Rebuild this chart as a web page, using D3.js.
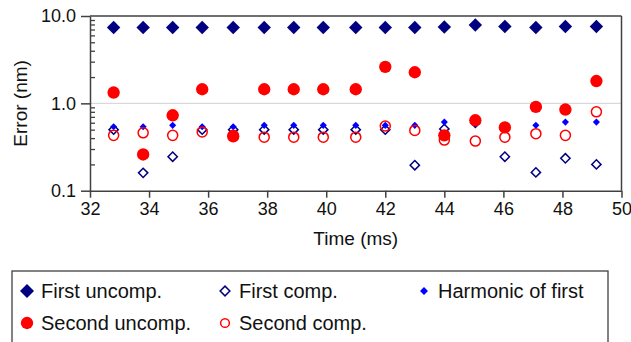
<!DOCTYPE html>
<html>
<head>
<meta charset="utf-8">
<script src="https://cdn.jsdelivr.net/npm/d3@7"></script>
<style>
  body { margin: 0; background: #fff; }
  svg { font-family: "Liberation Sans", Arial, sans-serif; }
</style>
</head>
<body>
<div id="chart"></div>
<script>
// data
const times = [32.8, 33.8, 34.8, 35.8, 36.85, 37.9, 38.9, 39.9, 41.0, 42.0, 43.0, 44.0, 45.05, 46.05, 47.1, 48.1, 49.15];
const firstUncomp  = [7.4, 7.4, 7.4, 7.4, 7.4, 7.4, 7.4, 7.4, 7.4, 7.4, 7.4, 7.5, 7.9, 7.6, 7.4, 7.6, 7.6];
const firstComp    = [0.5, 0.16, 0.245, 0.5, 0.5, 0.5, 0.5, 0.5, 0.5, 0.5, 0.196, 0.51, 0.6, 0.245, 0.162, 0.235, 0.2];
const harmonic     = [0.54, 0.54, 0.56, 0.54, 0.54, 0.56, 0.56, 0.56, 0.56, 0.56, 0.56, 0.61, 0.65, 0.56, 0.56, 0.61, 0.61];
const secondUncomp = [1.33, 0.26, 0.73, 1.45, 0.42, 1.45, 1.45, 1.45, 1.45, 2.62, 2.27, 0.43, 0.64, 0.53, 0.91, 0.85, 1.8];
const secondComp   = [0.43, 0.46, 0.43, 0.47, 0.43, 0.41, 0.41, 0.41, 0.41, 0.55, 0.49, 0.38, 0.37, 0.41, 0.45, 0.43, 0.8];
const yTicks = [0.1, 1, 10];
const xTicks = [32, 34, 36, 38, 40, 42, 44, 46, 48, 50];

const width = 631, height = 342;
const plot = {left: 90, right: 621.5, top: 16, bottom: 190.7};
const axisColor = "#404040";

let svg = d3.select("#chart")
    .append("svg")
    .attr("width", width)
    .attr("height", height);

let x = d3.scaleLinear().domain([32, 50]).range([plot.left, plot.right]);
let y = d3.scaleLog().domain([0.1, 10]).range([plot.bottom, plot.top]);

// gridline at 1.0
svg.append("line")
    .attr("x1", plot.left).attr("x2", plot.right)
    .attr("y1", y(1)).attr("y2", y(1))
    .attr("stroke", "#d9d9d9").attr("stroke-width", 1.2);

// box top and right
svg.append("line")
    .attr("x1", plot.left).attr("x2", plot.right)
    .attr("y1", plot.top).attr("y2", plot.top)
    .attr("stroke", axisColor).attr("stroke-width", 1.5);
svg.append("line")
    .attr("x1", plot.right).attr("x2", plot.right)
    .attr("y1", plot.top).attr("y2", plot.bottom)
    .attr("stroke", axisColor).attr("stroke-width", 1.5);

// minor ticks (inside)
let minor = [];
[0.1, 1].forEach(function(d) { for (let k = 2; k <= 9; k++) minor.push(d * k); });
svg.append("g")
    .attr("transform", `translate(${plot.left},0)`)
    .call(d3.axisRight(y).tickValues(minor).tickSize(5).tickFormat(""))
    .call(g => g.select(".domain").remove())
    .call(g => g.selectAll("line").attr("stroke", axisColor).attr("stroke-width", 1.3));

// y axis
svg.append("g")
    .attr("transform", `translate(${plot.left},0)`)
    .call(d3.axisLeft(y).tickValues(yTicks).tickSize(9).tickSizeOuter(0).tickPadding(5).tickFormat(d3.format(".1f")))
    .call(g => g.select(".domain").attr("stroke", axisColor).attr("stroke-width", 1.5))
    .call(g => g.selectAll("line").attr("stroke", axisColor).attr("stroke-width", 1.5))
    .call(g => g.selectAll("text").attr("fill", "#111").style("font-size", "18px"));

// x axis
svg.append("g")
    .attr("transform", `translate(0,${plot.bottom})`)
    .call(d3.axisBottom(x).tickValues(xTicks).tickSize(7).tickSizeOuter(0).tickPadding(5))
    .call(g => g.select(".domain").attr("stroke", axisColor).attr("stroke-width", 1.5))
    .call(g => g.selectAll("line").attr("stroke", axisColor).attr("stroke-width", 1.5))
    .call(g => g.selectAll("text").attr("fill", "#111").style("font-size", "18px"));

// axis titles
svg.append("text")
    .attr("transform", `translate(27, ${(plot.top + plot.bottom) / 2}) rotate(-90)`)
    .style("text-anchor", "middle")
    .style("font-size", "19px")
    .attr("fill", "#111")
    .text("Error (nm)");

svg.append("text")
    .attr("x", (plot.left + plot.right) / 2)
    .attr("y", 245)
    .style("text-anchor", "middle")
    .style("font-size", "19px")
    .attr("fill", "#111")
    .text("Time (ms)");

const diamond = d3.symbol().type(d3.symbolDiamond2);
const circle = d3.symbol().type(d3.symbolCircle);

const series = [
    {name: "First uncomp.",     values: firstUncomp,  sym: diamond, size: 115, fill: "#000080", stroke: "none",    sw: 0},
    {name: "First comp.",       values: firstComp,    sym: diamond, size: 55,  fill: "none",    stroke: "#000080", sw: 1.5},
    {name: "Harmonic of first", values: harmonic,     sym: diamond, size: 32,  fill: "#0000ff", stroke: "none",    sw: 0},
    {name: "Second uncomp.",    values: secondUncomp, sym: circle,  size: 120, fill: "#ff0000", stroke: "none",    sw: 0},
    {name: "Second comp.",      values: secondComp,   sym: circle,  size: 79,  fill: "none",    stroke: "#ff0000", sw: 1.5}
];

series.forEach(function(s) {
    svg.append("g").selectAll("path")
        .data(s.values)
        .enter()
        .append("path")
        .attr("transform", function(d, i) { return `translate(${x(times[i])},${y(d)})`; })
        .attr("d", s.sym.size(s.size)())
        .attr("fill", s.fill)
        .attr("stroke", s.stroke)
        .attr("stroke-width", s.sw);
});

// legend
let legend = svg.append("g");
legend.append("rect")
    .attr("x", 12).attr("y", 271)
    .attr("width", 596).attr("height", 80)
    .attr("fill", "#fff")
    .attr("stroke", axisColor).attr("stroke-width", 1.3);

const legendPos = [[27, 291], [225, 291], [424, 291], [27, 323], [225, 323]];
const legendSize = [125, 60, 40, 120, 60];
series.forEach(function(s, i) {
    let p = legendPos[i];
    legend.append("path")
        .attr("transform", `translate(${p[0]},${p[1]})`)
        .attr("d", s.sym.size(legendSize[i])())
        .attr("fill", s.fill)
        .attr("stroke", s.stroke)
        .attr("stroke-width", s.sw);
    legend.append("text")
        .attr("x", p[0] + 14)
        .attr("y", p[1] + 7)
        .style("font-size", "20px")
        .attr("fill", "#111")
        .text(s.name);
});
</script>
</body>
</html>
